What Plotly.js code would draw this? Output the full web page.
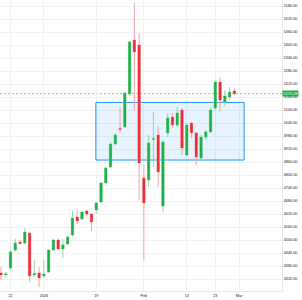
<!DOCTYPE html>
<html>
<head>
<meta charset="utf-8">
<script src="https://cdn.plot.ly/plotly-3.0.1.min.js"></script>
<style>
html,body{margin:0;padding:0;background:#fff;}
#chart{width:302px;height:300px;}
</style>
</head>
<body>
<div id="chart"></div>
<script>
const dates = [
"2025-12-18","2025-12-19","2025-12-22","2025-12-23","2025-12-24","2025-12-26","2025-12-29","2025-12-30","2025-12-31",
"2026-01-02","2026-01-05","2026-01-06","2026-01-07","2026-01-08","2026-01-09","2026-01-12","2026-01-13","2026-01-14",
"2026-01-15","2026-01-16","2026-01-19","2026-01-20","2026-01-21","2026-01-22","2026-01-23","2026-01-26","2026-01-27",
"2026-01-28","2026-01-29","2026-01-30","2026-02-02","2026-02-03","2026-02-04","2026-02-05","2026-02-06","2026-02-09",
"2026-02-10","2026-02-11","2026-02-12","2026-02-13","2026-02-16","2026-02-17","2026-02-18","2026-02-19","2026-02-20",
"2026-02-23","2026-02-24","2026-02-25","2026-02-26","2026-02-27"
];
const openP  = [4348,4339,4371,4454,4491,4486,4532,4339,4348, 4334,4352,4454,4500,4459,4482,4523,4606,4597, 4634,4620,4639,4676,4763,4837,4943,5015,5022, 5174,5423,5400,4786,4777,4964,4985,4657,4994, 5068,5031,5100,4892,5040,4994,4879,4975,4999, 5109,5229,5137,5160,5188];
const highP  = [4376,4352,4454,4505,4500,4556,4535,4408,4376, 4408,4456,4505,4509,4505,4519,4634,4639,4634, 4639,4625,4676,4768,4837,4952,4994,5114,5183, 5419,5594,5455,4846,4985,5091,5026,4962,5086, 5086,5114,5109,5040,5045,4999,4985,5008,5109, 5239,5252,5192,5206,5202];
const lowP   = [4316,4325,4362,4445,4477,4477,4306,4329,4283, 4325,4348,4452,4454,4417,4477,4519,4574,4592, 4611,4542,4620,4671,4763,4832,4938,4994,5017, 5164,5100,4685,4408,4745,4837,4745,4629,4976, 5017,5022,4892,4883,4971,4846,4869,4962,4994, 5100,5091,5118,5146,5169];
const closeP = [4339,4343,4445,4486,4484,4537,4334,4345,4325, 4343,4454,4500,4459,4477,4514,4602,4588,4629, 4620,4583,4671,4763,4832,4943,4985,5010,5179, 5414,5368,4856,4671,4948,4969,4814,4952,5063, 5031,5086,4925,5031,4994,4883,4975,4999,5100, 5229,5146,5165,5183,5175.28];

const tickDates = ["2025-12-22","2026-01-02","2026-01-19","2026-02-02","2026-02-13","2026-02-23","2026-03-02"];
const tickLabels = ["22","2026","19","Feb","13","23","Mar"];
const lastPrice = 5175.28;
const zoneDates = ["2026-01-19 10:00","2026-03-03 13:00"];
const zonePrices = [4869,5135];

const noon = d => d + " 12:00";
const xs = dates.map(noon);

const green = "#1fb04a", red = "#ef2b37";
const greenWick = "#93d9a3", redWick = "#f6a3a9";

const wicks = {
  type:"candlestick", x:xs, open:openP, high:highP, low:lowP, close:closeP,
  increasing:{line:{color:greenWick,width:1},fillcolor:green},
  decreasing:{line:{color:redWick,width:1},fillcolor:red},
  whiskerwidth:0, hoverinfo:"skip", showlegend:false
};
const bodies = {
  type:"candlestick", x:xs, open:openP, high:highP, low:lowP, close:closeP,
  increasing:{line:{color:green,width:0},fillcolor:green},
  decreasing:{line:{color:red,width:0},fillcolor:red},
  whiskerwidth:0, hoverinfo:"skip", showlegend:false
};

const fnt = {family:"Liberation Sans, Arial, sans-serif", size:3.8, color:"#131722"};

const layout = {
  width:302, height:300,
  margin:{l:0,r:20,t:0,b:9,pad:0},
  paper_bgcolor:"#fff", plot_bgcolor:"#fff",
  showlegend:false,
  font:fnt,
  xaxis:{
    type:"date",
    range:["2025-12-18 07:00","2026-03-13 12:00"],
    rangebreaks:[{bounds:["sat","mon"]},{values:["2025-12-25","2026-01-01"]}],
    rangeslider:{visible:false},
    tickvals:tickDates.map(noon), ticktext:tickLabels,
    showgrid:true, gridcolor:"#f0f2f5", gridwidth:1,
    showline:true, linecolor:"#e6e8ee", linewidth:1,
    ticks:"", tickfont:fnt, zeroline:false, fixedrange:true
  },
  yaxis:{
    side:"right",
    range:[4264.7,5607.7],
    tick0:4320, dtick:60, tickformat:".2f",
    showgrid:true, gridcolor:"#f0f2f5", gridwidth:1,
    showline:true, linecolor:"#e6e8ee", linewidth:1,
    ticks:"", tickfont:fnt, zeroline:false, fixedrange:true
  },
  shapes:[
    {type:"rect", xref:"x", yref:"y", x0:zoneDates[0], x1:zoneDates[1], y0:zonePrices[0], y1:zonePrices[1],
     fillcolor:"rgba(33,150,243,0.11)", line:{color:"#2196f3",width:1}, layer:"between"},
    {type:"line", xref:"paper", yref:"y", x0:0, x1:1, y0:lastPrice, y1:lastPrice,
     line:{color:"#7fd18f",width:1,dash:"2px,2px"}, layer:"between"}
  ],
  annotations:[
    {xref:"paper", yref:"y", x:1, y:lastPrice, xanchor:"left", yanchor:"middle",
     text:lastPrice.toFixed(2), showarrow:false, bgcolor:green, borderpad:0.6,
     font:{family:"Liberation Sans, Arial, sans-serif", size:3.8, color:"#ffffff"}}
  ]
};

Plotly.newPlot("chart",[wicks,bodies],layout,{staticPlot:true,displayModeBar:false});
</script>
</body>
</html>
